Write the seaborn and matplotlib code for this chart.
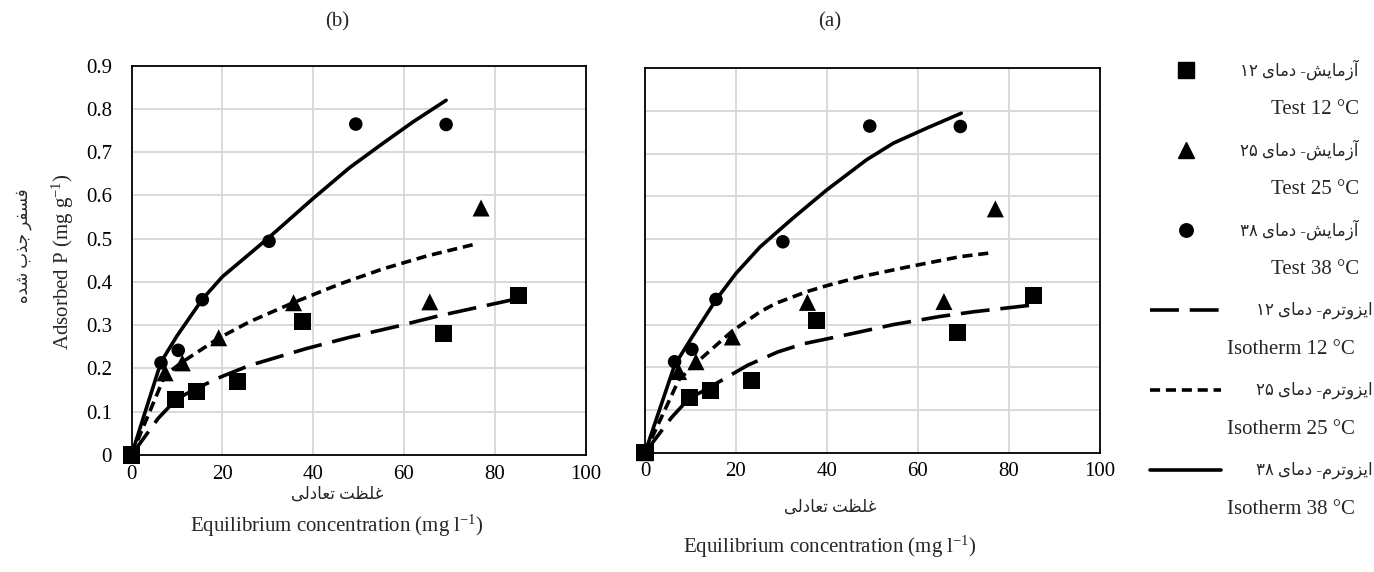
import matplotlib
matplotlib.use("Agg")
import matplotlib.pyplot as plt
import seaborn as sns
import pandas as pd
import numpy as np
from matplotlib.ticker import FixedLocator, FixedFormatter

# ---------------- data ----------------
test12_x = [0, 9.8, 14.3, 23.3, 37.7, 68.7, 85.3]
test12_y = [0, 0.129, 0.146, 0.169, 0.309, 0.281, 0.369]
test25_x = [0, 7.4, 11.2, 19.2, 35.7, 65.7, 77.0]
test25_y = [0, 0.190, 0.213, 0.271, 0.352, 0.354, 0.571]
test38_x = [0, 6.5, 10.3, 15.6, 30.3, 49.4, 69.3]
test38_y = [0, 0.213, 0.242, 0.359, 0.494, 0.765, 0.764]

# panel (b) isotherms
iso12_b_x = [0, 5.9, 9.9, 14.3, 19.8, 26, 38.5, 48, 58.3, 67.8, 85.3]
iso12_b_y = [0, 0.085, 0.129, 0.154, 0.181, 0.207, 0.246, 0.272, 0.297, 0.322, 0.362]
iso25_b_x = [0, 7.4, 11.2, 19.2, 26, 35.6, 45.8, 55.3, 65, 75.5]
iso25_b_y = [0, 0.185, 0.215, 0.270, 0.308, 0.352, 0.395, 0.430, 0.460, 0.487]
iso38_b_x = [0, 6.5, 10, 15.6, 20, 26, 30.4, 40, 48, 55.3, 62, 69.3]
iso38_b_y = [0, 0.215, 0.275, 0.360, 0.412, 0.465, 0.504, 0.593, 0.664, 0.720, 0.770, 0.820]

# panel (a) isotherms
iso12_a_x = [0, 5.8, 9.5, 14, 22.6, 29.2, 34.8, 45.1, 54.6, 64.8, 72.2, 85.3]
iso12_a_y = [0, 0.082, 0.125, 0.152, 0.205, 0.236, 0.255, 0.278, 0.300, 0.319, 0.330, 0.346]
iso25_a_x = [0, 7.4, 11.2, 19.2, 25.3, 28.8, 35.5, 39.9, 47.3, 58.2, 69.2, 76.0]
iso25_a_y = [0, 0.170, 0.210, 0.285, 0.330, 0.350, 0.377, 0.391, 0.412, 0.436, 0.459, 0.468]
iso38_a_x = [0, 6.5, 10.3, 15.6, 20, 25.3, 32.6, 39.9, 48.7, 54.6, 61.9, 69.5]
iso38_a_y = [0, 0.205, 0.270, 0.358, 0.420, 0.482, 0.550, 0.615, 0.686, 0.725, 0.760, 0.795]

x_ticks = [0, 20, 40, 60, 80, 100]
x_ticklabels = ["0", "20", "40", "60", "80", "100"]
y_ticks = [0, 0.1, 0.2, 0.3, 0.4, 0.5, 0.6, 0.7, 0.8, 0.9]
y_ticklabels = ["0", "0.1", "0.2", "0.3", "0.4", "0.5", "0.6", "0.7", "0.8", "0.9"]

legend_fa = ["آزمایش- دمای ۱۲", "آزمایش- دمای ۲۵", "آزمایش- دمای ۳۸",
             "ایزوترم- دمای ۱۲", "ایزوترم- دمای ۲۵", "ایزوترم- دمای ۳۸"]
legend_en = ["Test 12 °C", "Test 25 °C", "Test 38 °C",
             "Isotherm 12 °C", "Isotherm 25 °C", "Isotherm 38 °C"]
ylabel_fa = "فسفر جذب شده"
xlabel_fa = "غلظت تعادلی"
ylabel_en = "Adsorbed P (mg g$^{-1}$)"
xlabel_en = "Equilibrium concentration (mg l$^{-1}$)"

# ---------------- Persian shaping helper (presentation forms, visual order) ----------------
FORMS = {
    'آ': ('\uFE81', '\uFE82', None, None),
    'ا': ('\uFE8D', '\uFE8E', None, None),
    'ز': ('\uFEAF', '\uFEB0', None, None),
    'د': ('\uFEA9', '\uFEAA', None, None),
    'ذ': ('\uFEAB', '\uFEAC', None, None),
    'ر': ('\uFEAD', '\uFEAE', None, None),
    'و': ('\uFEED', '\uFEEE', None, None),
    'م': ('\uFEE1', '\uFEE2', '\uFEE3', '\uFEE4'),
    'ی': ('\uFBFC', '\uFBFD', '\uFBFE', '\uFBFF'),
    'ش': ('\uFEB5', '\uFEB6', '\uFEB7', '\uFEB8'),
    'ت': ('\uFE95', '\uFE96', '\uFE97', '\uFE98'),
    'ف': ('\uFED1', '\uFED2', '\uFED3', '\uFED4'),
    'س': ('\uFEB1', '\uFEB2', '\uFEB3', '\uFEB4'),
    'ج': ('\uFE9D', '\uFE9E', '\uFE9F', '\uFEA0'),
    'ب': ('\uFE8F', '\uFE90', '\uFE91', '\uFE92'),
    'ه': ('\uFEE9', '\uFEEA', '\uFEEB', '\uFEEC'),
    'غ': ('\uFECD', '\uFECE', '\uFECF', '\uFED0'),
    'ل': ('\uFEDD', '\uFEDE', '\uFEDF', '\uFEE0'),
    'ظ': ('\uFEC5', '\uFEC6', '\uFEC7', '\uFEC8'),
    'ع': ('\uFEC9', '\uFECA', '\uFECB', '\uFECC'),
}


def fa(text):
    chars = list(text)
    shaped = []
    for i, c in enumerate(chars):
        if c not in FORMS:
            shaped.append(c)
            continue
        prev = chars[i - 1] if i > 0 else None
        nxt = chars[i + 1] if i + 1 < len(chars) else None
        jp = prev in FORMS and FORMS[prev][2] is not None
        jn = FORMS[c][2] is not None and nxt in FORMS
        iso, fin, ini, med = FORMS[c]
        if jp and jn:
            shaped.append(med)
        elif jn:
            shaped.append(ini)
        elif jp:
            shaped.append(fin)
        else:
            shaped.append(iso)
    runs, cur, cur_digit = [], "", None
    for c in shaped:
        d = '\u06F0' <= c <= '\u06F9'
        if cur and d != cur_digit:
            runs.append((cur, cur_digit))
            cur = ""
        cur += c
        cur_digit = d
    if cur:
        runs.append((cur, cur_digit))
    out = ""
    for r, d in reversed(runs):
        out += r if d else r[::-1]
    return out


# ---------------- style ----------------
sns.set_style("white")
plt.rcParams['font.family'] = ['Liberation Serif', 'DejaVu Sans']
plt.rcParams['mathtext.fontset'] = 'custom'
plt.rcParams['mathtext.rm'] = 'Liberation Serif'
plt.rcParams['mathtext.it'] = 'Liberation Serif:italic'

W, H = 1374, 572
fig = plt.figure(figsize=(W / 100, H / 100), dpi=100)

ax_b = fig.add_axes([131.5 / W, 1 - 455 / H, 454 / W, 389.3 / H])
ax_a = fig.add_axes([645 / W, 1 - 452.7 / H, 455 / W, 384.3 / H])

LW = 2.6
DASH = {'12': (0, (8, 3)), '25': (0, (2.8, 1.6)), '38': '-'}
TICK_FS = 15


def draw_panel(ax, curves, show_y):
    for key, (cx, cy) in curves.items():
        sns.lineplot(x=cx, y=cy, ax=ax, color='k', lw=LW, sort=False,
                     estimator=None, linestyle=DASH[key], zorder=3)
    sns.scatterplot(x=test12_x, y=test12_y, ax=ax, marker='s', s=150, color='k',
                    edgecolor='none', zorder=4, clip_on=False)
    sns.scatterplot(x=test25_x, y=test25_y, ax=ax, marker='^', s=150, color='k',
                    edgecolor='none', zorder=4, clip_on=False)
    sns.scatterplot(x=test38_x, y=test38_y, ax=ax, marker='o', s=95, color='k',
                    edgecolor='none', zorder=4, clip_on=False)
    ax.set_xlim(0, 100)
    ax.set_ylim(0, 0.9)
    ax.xaxis.set_major_locator(FixedLocator(x_ticks))
    ax.xaxis.set_major_formatter(FixedFormatter(x_ticklabels))
    ax.yaxis.set_major_locator(FixedLocator(y_ticks))
    if show_y:
        ax.yaxis.set_major_formatter(FixedFormatter(y_ticklabels))
    else:
        ax.set_yticklabels([])
    ax.grid(True, color='#d9d9d9', lw=1.4)
    ax.set_axisbelow(True)
    for sp in ax.spines.values():
        sp.set_color('black')
        sp.set_linewidth(1.3)
    ax.tick_params(axis='both', length=0, labelsize=TICK_FS, colors='black')
    ax.tick_params(axis='x', pad=7)
    ax.tick_params(axis='y', pad=14)
    ax.set_xlabel("")
    ax.set_ylabel("")


draw_panel(ax_b, {'12': (iso12_b_x, iso12_b_y), '25': (iso25_b_x, iso25_b_y),
                  '38': (iso38_b_x, iso38_b_y)}, True)
draw_panel(ax_a, {'12': (iso12_a_x, iso12_a_y), '25': (iso25_a_x, iso25_a_y),
                  '38': (iso38_a_x, iso38_a_y)}, False)

# ---------------- overlay for texts / legend (pixel coordinates) ----------------
ov = fig.add_axes([0, 0, 1, 1], zorder=-5)
ov.set_xlim(0, W)
ov.set_ylim(H, 0)
ov.axis('off')

FA_FS = 12
EN_FS = 15

ov.text(337, 22, "(b)", ha='center', va='center', fontsize=EN_FS)
ov.text(830, 22, "(a)", ha='center', va='center', fontsize=EN_FS)

ov.text(337, 495, fa(xlabel_fa), ha='center', va='center', fontsize=FA_FS)
ov.text(337, 526, xlabel_en, ha='center', va='center', fontsize=EN_FS)
ov.text(830, 508, fa(xlabel_fa), ha='center', va='center', fontsize=FA_FS)
ov.text(830, 547, xlabel_en, ha='center', va='center', fontsize=EN_FS)

ov.text(63, 262, ylabel_en, ha='center', va='center', rotation=90, fontsize=EN_FS)
ov.text(24, 246, fa(ylabel_fa), ha='center', va='center', rotation=90, fontsize=FA_FS)

# legend
row0, step = 70, 40
keys = [('m', 's', 12), ('m', '^', 12), ('m', 'o', 9.7),
        ('l', DASH['12'], None), ('l', DASH['25'], None), ('l', DASH['38'], None)]
for i, (kind, st, ms) in enumerate(keys):
    yf = row0 + 2 * i * step
    ye = yf + step
    if kind == 'm':
        ov.plot([1186], [yf], marker=st, ms=ms, color='k', ls='none')
        ov.text(1359, yf, fa(legend_fa[i]), ha='right', va='center', fontsize=FA_FS)
        ov.text(1359, ye, legend_en[i], ha='right', va='center', fontsize=EN_FS)
    else:
        ov.plot([1150, 1221], [yf, yf], color='k', lw=LW, linestyle=st)
        ov.text(1373, yf, fa(legend_fa[i]), ha='right', va='center', fontsize=FA_FS)
        ov.text(1227, ye, legend_en[i], ha='left', va='center', fontsize=EN_FS)

fig.savefig("out.png", dpi=100)
